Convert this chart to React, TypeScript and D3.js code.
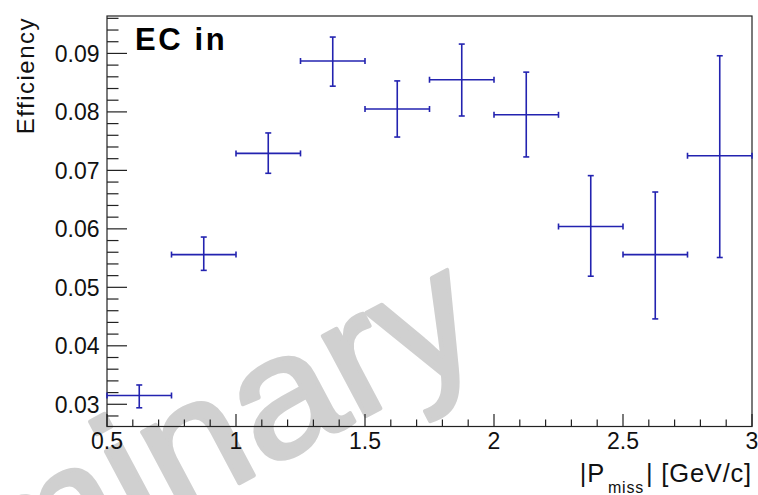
import React, { useEffect } from "react";
import * as d3 from "d3";

// Efficiency vs missing momentum, bins of 0.25 GeV/c from 0.5 to 3.0
const binLow = [0.5, 0.75, 1.0, 1.25, 1.5, 1.75, 2.0, 2.25, 2.5, 2.75];
const binHigh = [0.75, 1.0, 1.25, 1.5, 1.75, 2.0, 2.25, 2.5, 2.75, 3.0];
const efficiency = [0.0315, 0.0556, 0.0729, 0.0887, 0.0805, 0.0855, 0.0795, 0.0604, 0.0556, 0.0725];
const errLow = [0.0021, 0.0027, 0.0034, 0.0043, 0.0048, 0.0062, 0.0072, 0.0085, 0.011, 0.0174];
const errHigh = [0.0018, 0.003, 0.0035, 0.0041, 0.0048, 0.0061, 0.0073, 0.0087, 0.0107, 0.0171];

const xMajorTicks = [0.5, 1, 1.5, 2, 2.5, 3];
const xMajorLabels = ["0.5", "1", "1.5", "2", "2.5", "3"];
const yMajorTicks = [0.03, 0.04, 0.05, 0.06, 0.07, 0.08, 0.09];
const yMajorLabels = ["0.03", "0.04", "0.05", "0.06", "0.07", "0.08", "0.09"];

const W = 758;
const H = 495;
const frame = { left: 107, right: 752, top: 16, bottom: 426.5 };
const font = "'Liberation Sans', Arial, Helvetica, sans-serif";
const markColor = "#2323b0";
const axisColor = "#222";
const watermarkColor = "#d0d0d0";

export default function App() {
  useEffect(() => {
    document.body.style.margin = "0";
  }, []);

  const x = d3.scaleLinear().domain([0.5, 3]).range([frame.left, frame.right]);
  const y = d3.scaleLinear().domain([0.0262, 0.0964]).range([frame.bottom, frame.top]);

  const xMinor = d3.range(0.5, 3.0001, 0.1).map((v) => +v.toFixed(2));
  const yMinor = d3.range(0.026, 0.0965, 0.002).map((v) => +v.toFixed(3)).filter((v) => v >= 0.0262 && v <= 0.0964);

  const cap = 3;

  return (
    <svg
      width={W}
      height={H}
      viewBox={`0 0 ${W} ${H}`}
      style={{ position: "absolute", left: 0, top: 0, background: "#fff", display: "block" }}
    >
      <rect x={0} y={0} width={W} height={H} fill="#fff" />

      {/* watermark */}
      <text
        transform={`translate(490,350) rotate(-28) scale(1.07,1)`}
        textAnchor="end"
        fontFamily={font}
        fontSize={172}
        fill={watermarkColor}
        stroke={watermarkColor}
        strokeWidth={4}
        strokeLinejoin="round"
      >
        Preliminary
      </text>

      {/* frame */}
      <rect
        x={frame.left}
        y={frame.top}
        width={frame.right - frame.left}
        height={frame.bottom - frame.top}
        fill="none"
        stroke={axisColor}
        strokeWidth={1.2}
      />

      {/* x ticks */}
      {xMinor.map((v, i) => {
        const major = xMajorTicks.some((m) => Math.abs(m - v) < 1e-6);
        return (
          <line
            key={`xm${i}`}
            x1={x(v)}
            x2={x(v)}
            y1={frame.bottom}
            y2={frame.bottom - (major ? 12.5 : 7)}
            stroke={axisColor}
            strokeWidth={1.2}
          />
        );
      })}
      {xMajorTicks.map((v, i) => (
        <text
          key={`xl${i}`}
          x={x(v)}
          y={448.5}
          textAnchor="middle"
          fontFamily={font}
          fontSize={23}
          fill="#111"
        >
          {xMajorLabels[i]}
        </text>
      ))}

      {/* y ticks */}
      {yMinor.map((v, i) => {
        const major = yMajorTicks.some((m) => Math.abs(m - v) < 1e-6);
        return (
          <line
            key={`ym${i}`}
            x1={frame.left}
            x2={frame.left + (major ? 20 : 11.5)}
            y1={y(v)}
            y2={y(v)}
            stroke={axisColor}
            strokeWidth={1.2}
          />
        );
      })}
      {yMajorTicks.map((v, i) => (
        <text
          key={`yl${i}`}
          x={99.5}
          y={y(v)}
          dy="0.36em"
          textAnchor="end"
          fontFamily={font}
          fontSize={23}
          fill="#111"
        >
          {yMajorLabels[i]}
        </text>
      ))}

      {/* axis titles */}
      <text
        transform="translate(33.5,17) rotate(-90)"
        textAnchor="end"
        fontFamily={font}
        fontSize={24}
        letterSpacing={1.5}
        fill="#111"
      >
        Efficiency
      </text>
      <text
        x={752}
        y={481.5}
        textAnchor="end"
        fontFamily={font}
        fontSize={25.5}
        letterSpacing={0.8}
        fill="#111"
      >
        <tspan>|P</tspan>
        <tspan fontSize={16} dy={11.5} dx={3}>miss</tspan>
        <tspan dy={-11.5} dx={2}>| [GeV/c]</tspan>
      </text>

      {/* plot label */}
      <text x={135} y={50} fontFamily={font} fontSize={31} fontWeight="bold" letterSpacing={2.6} fill="#000">
        EC in
      </text>

      {/* data points with errors */}
      {efficiency.map((v, i) => {
        const cx = x((binLow[i] + binHigh[i]) / 2);
        const cy = y(v);
        const xl = x(binLow[i]);
        const xr = x(binHigh[i]);
        const yt = y(v + errHigh[i]);
        const yb = y(v - errLow[i]);
        return (
          <g key={`p${i}`} stroke={markColor} strokeWidth={1.6} fill="none">
            <line x1={xl} x2={xr} y1={cy} y2={cy} />
            <line x1={cx} x2={cx} y1={yt} y2={yb} />
            <line x1={xl} x2={xl} y1={cy - cap} y2={cy + cap} />
            <line x1={xr} x2={xr} y1={cy - cap} y2={cy + cap} />
            <line x1={cx - cap} x2={cx + cap} y1={yt} y2={yt} />
            <line x1={cx - cap} x2={cx + cap} y1={yb} y2={yb} />
          </g>
        );
      })}
    </svg>
  );
}
